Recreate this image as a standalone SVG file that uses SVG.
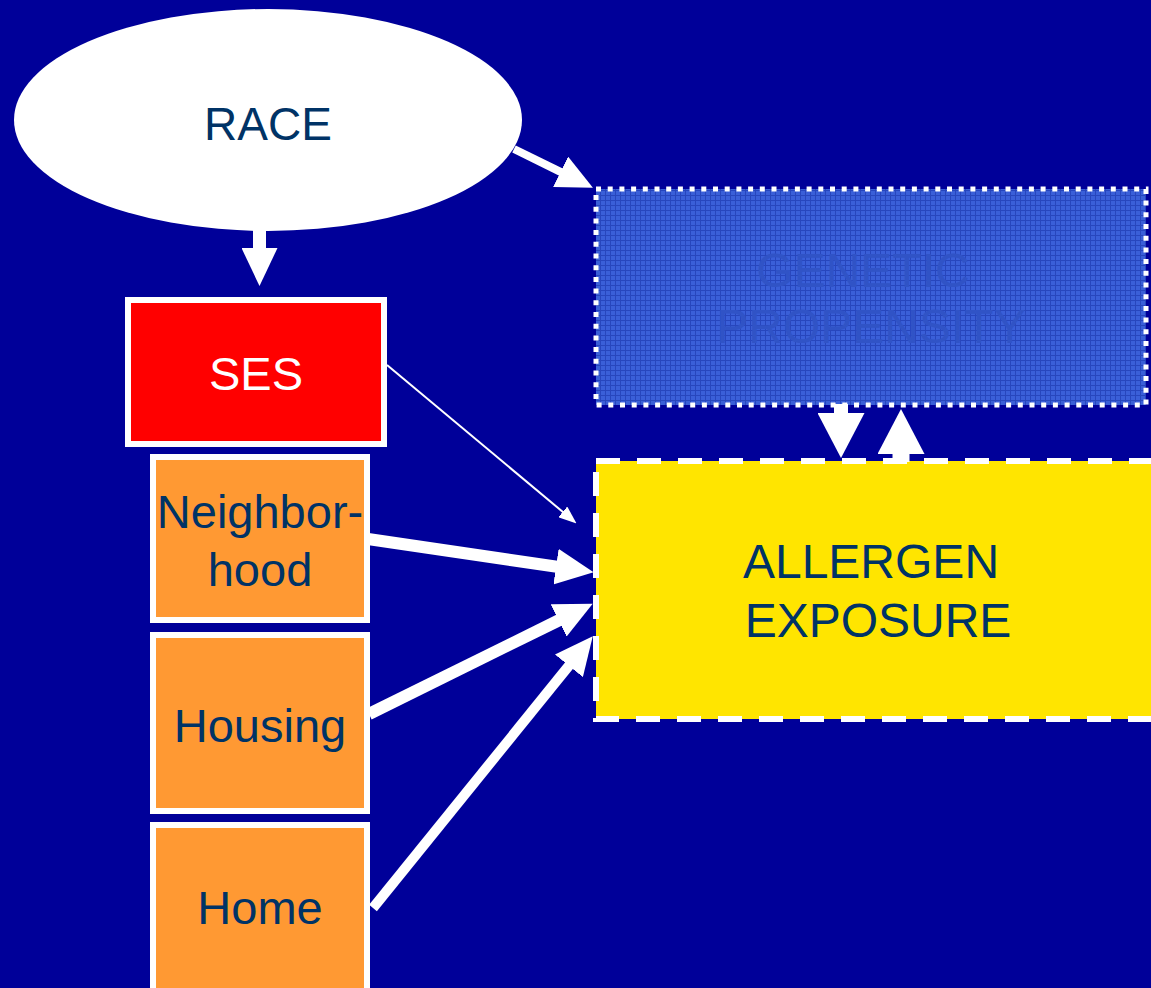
<svg xmlns="http://www.w3.org/2000/svg" width="1151" height="988" viewBox="0 0 1151 988">
<style>
.lbl{font-family:"Liberation Sans",Arial,sans-serif;fill:#003366;text-anchor:middle}
.box{stroke:#ffffff;stroke-width:6}
.orange{fill:#ff9933}
.conn{stroke:#ffffff;fill:none}
.gen{fill:#3053c6}
</style>
<defs>
<pattern id="grid" width="5" height="5" patternUnits="userSpaceOnUse">
<rect width="5" height="5" fill="#3a5fd8"/>
<path d="M0,0.5 H5 M0.5,0 V5" stroke="#2746bd" stroke-width="1"/>
</pattern>
<marker id="big" markerUnits="userSpaceOnUse" markerWidth="38" markerHeight="36" viewBox="0 0 38 36" refX="1" refY="18" orient="auto">
<path d="M0,0 L38,18 L0,36 z" fill="#ffffff"/>
</marker>
<marker id="mid" markerUnits="userSpaceOnUse" markerWidth="36" markerHeight="34" viewBox="0 0 36 34" refX="1" refY="17" orient="auto">
<path d="M0,0 L36,17 L0,34 z" fill="#ffffff"/>
</marker>
<marker id="vert" markerUnits="userSpaceOnUse" markerWidth="45" markerHeight="47" viewBox="0 0 45 47" refX="1" refY="23.5" orient="auto">
<path d="M0,0 L45,23.5 L0,47 z" fill="#ffffff"/>
</marker>
<marker id="small" markerUnits="userSpaceOnUse" markerWidth="18" markerHeight="14" viewBox="0 0 18 14" refX="1" refY="7" orient="auto">
<path d="M0,0 L18,7 L0,14 z" fill="#ffffff"/>
</marker>
</defs>
<rect width="1151" height="988" fill="#000099"/>

<g id="genetic">
<rect x="596" y="189" width="550" height="216" fill="url(#grid)" stroke="#ffffff" stroke-width="5" stroke-dasharray="5 6.7"/>
<text class="lbl gen" x="863" y="287" font-size="48">GENETIC</text>
<text class="lbl gen" x="871" y="343" font-size="48">PROPENSITY</text>
</g>

<g id="allergen">
<rect x="596" y="461" width="600" height="258" fill="#ffe500" stroke="#ffffff" stroke-width="6" stroke-dasharray="24 17"/>
<text class="lbl" x="871" y="578" font-size="48">ALLERGEN</text>
<text class="lbl" x="878" y="637" font-size="48">EXPOSURE</text>
</g>

<g id="connectors">
<line class="conn" x1="514" y1="149" x2="561.5" y2="172.3" stroke-width="8" marker-end="url(#mid)"/>
<line class="conn" x1="259.5" y1="228" x2="259.5" y2="249" stroke-width="13" marker-end="url(#big)"/>
<line class="conn" x1="387" y1="365" x2="563.5" y2="512.5" stroke-width="2" marker-end="url(#small)"/>
<line class="conn" x1="368" y1="539" x2="557" y2="566.8" stroke-width="12" marker-end="url(#big)"/>
<line class="conn" x1="369" y1="714" x2="559.5" y2="620" stroke-width="12" marker-end="url(#big)"/>
<line class="conn" x1="373" y1="908" x2="569.5" y2="665" stroke-width="10" marker-end="url(#big)"/>
<line class="conn" x1="841" y1="404" x2="841" y2="414" stroke-width="14" marker-end="url(#vert)"/>
<line class="conn" x1="901" y1="462" x2="901" y2="453" stroke-width="17" marker-end="url(#vert)"/>
</g>

<g id="race">
<ellipse cx="268" cy="120" rx="254" ry="111" fill="#ffffff"/>
<text class="lbl" x="268" y="140" font-size="46">RACE</text>
</g>

<g id="ses">
<rect class="box" x="128" y="300" width="256" height="144" fill="#ff0000"/>
<text class="lbl" x="256" y="390" font-size="47" style="fill:#ffffff">SES</text>
</g>

<g id="neighborhood">
<rect class="box orange" x="153" y="457" width="214" height="163"/>
<text class="lbl" x="260" y="528" font-size="47">Neighbor-</text>
<text class="lbl" x="260" y="586" font-size="47">hood</text>
</g>

<g id="housing">
<rect class="box orange" x="153" y="635" width="214" height="176"/>
<text class="lbl" x="260" y="742" font-size="47">Housing</text>
</g>

<g id="home">
<rect class="box orange" x="153" y="825" width="214" height="180"/>
<text class="lbl" x="260" y="924" font-size="47">Home</text>
</g>
</svg>
